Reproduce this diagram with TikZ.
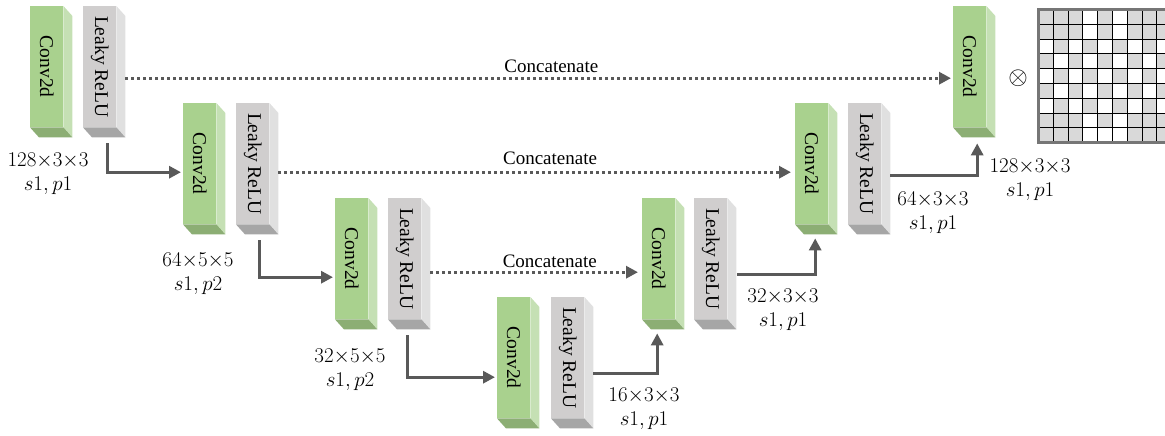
\documentclass[tikz,border=0pt]{standalone}
\usepackage{fix-cm}
\usepackage{fontspec}
\setmainfont{Liberation Serif}
\usetikzlibrary{arrows.meta,calc}

\definecolor{convfront}{HTML}{A9D18E}
\definecolor{convside}{HTML}{C5E0B4}
\definecolor{convbot}{HTML}{8CAE74}
\definecolor{relufront}{HTML}{D0CECE}
\definecolor{reluside}{HTML}{E0E0E0}
\definecolor{relubot}{HTML}{A6A6A6}
\definecolor{linkgray}{HTML}{595959}
\definecolor{cellgray}{HTML}{D9D9D9}
\definecolor{gridrim}{HTML}{767676}

% a layer block: front face node, right side and bottom faces, rotated caption
\newcommand\prism[5]{%
  \node[#4] (#1) at (#2,#3) {};
  \fill[#4side] (#1.north east) -- ++(9,10) -- ++(0,121) -- (#1.south east) -- cycle;
  \fill[#4bot] (#1.south west) -- (#1.south east) -- ++(9,10)
    -- ($(#1.south west)+(9,10)$) -- cycle;
  \node[blocktext] (#1t) at (#1.center) {#5};
}

\begin{document}
\begin{tikzpicture}[x=1pt,y=-1pt,
  face/.style={minimum width=33pt,minimum height=121pt,inner sep=0pt,anchor=north west},
  conv/.style={face,fill=convfront},
  relu/.style={face,fill=relufront},
  blocktext/.style={rotate=-90,inner sep=0pt,font=\fontsize{19.5}{22}\selectfont},
  dims/.style={align=center,inner sep=0pt,font=\fontsize{21}{24}\selectfont},
  cattext/.style={anchor=base,inner sep=0pt,font=\fontsize{19}{22}\selectfont},
  tip/.style={-{Triangle[length=12pt,width=12pt]}},
  conn/.style={draw=linkgray,line width=3pt,tip},
  skipconn/.style={draw=linkgray,line width=3pt,dash pattern=on 3pt off 3pt,tip}]

\useasboundingbox (0,0) rectangle (1165,436);

% encoder
\prism{c1}{30}{6}{conv}{Conv2d}
\prism{r1}{83}{6}{relu}{Leaky ReLU}
\prism{c2}{183}{103}{conv}{Conv2d}
\prism{r2}{236}{103}{relu}{Leaky ReLU}
\prism{c3}{335}{198}{conv}{Conv2d}
\prism{r3}{388}{198}{relu}{Leaky ReLU}
% bottleneck
\prism{c4}{497}{297}{conv}{Conv2d}
\prism{r4}{551}{297}{relu}{Leaky ReLU}
% decoder
\prism{c5}{642}{198}{conv}{Conv2d}
\prism{r5}{694}{198}{relu}{Leaky ReLU}
\prism{c6}{795}{103}{conv}{Conv2d}
\prism{r6}{848}{103}{relu}{Leaky ReLU}
\prism{c7}{953}{6}{conv}{Conv2d}

% kernel sizes, strides and paddings
\node[dims] (d1) at (48,174)  {$128{\times}3{\times}3$\\$s1,p1$};
\node[dims] (d2) at (198,274) {$64{\times}5{\times}5$\\$s1,p2$};
\node[dims] (d3) at (350,370) {$32{\times}5{\times}5$\\$s1,p2$};
\node[dims] (d4) at (644,409) {$16{\times}3{\times}3$\\$s1,p1$};
\node[dims] (d5) at (783,310) {$32{\times}3{\times}3$\\$s1,p1$};
\node[dims] (d6) at (933,213) {$64{\times}3{\times}3$\\$s1,p1$};
\node[dims] (d7) at (1030,180) {$128{\times}3{\times}3$\\$s1,p1$};

% down path
\draw[conn] ($(r1.south)+(7.5,16)$) |- ($(c2.west)+(-2,8.5)$);
\draw[conn] ($(r2.south)+(6.5,16)$) |- ($(c3.west)+(-2,18.5)$);
\draw[conn] ($(r3.south)+(2.5,16)$) |- ($(c4.west)+(-2,19.5)$);
% up path
\draw[conn] ($(r4.east)+(9,15.5)$) -| ($(c5.south)+(-1.5,14)$);
\draw[conn] ($(r5.east)+(10,15.5)$) -| ($(c6.south)+(3.5,14)$);
\draw[conn] ($(r6.east)+(9,11.5)$) -| ($(c7.south)+(7.5,16)$);

% skip connections
\draw[skipconn] ($(r1.east)+(9,11.5)$) -- ($(c7.west)+(-2,11.5)$)
  node[cattext,pos=0.516,yshift=6pt] (k1) {Concatenate};
\draw[skipconn] ($(r2.east)+(9,8.5)$) -- ($(c6.west)+(-4,8.5)$)
  node[cattext,pos=0.53,yshift=8pt] (k2) {Concatenate};
\draw[skipconn] ($(r3.east)+(9,13.5)$) -- ($(c5.west)+(-4,13.5)$)
  node[cattext,pos=0.575,yshift=5pt] (k3) {Concatenate};

% elementwise product with the mask
\node (prod) at (1018,78) {\fontsize{25}{25}\selectfont$\otimes$};

% 9x9 mask
\fill[cellgray] (1038.5,9.5) rectangle ++(133.2,133.2);
\foreach \r/\c in {1/4,1/6,2/4,2/6,
    3/1,3/3,3/5,3/7,3/9,4/2,4/4,4/6,4/8,
    5/1,5/3,5/5,5/7,5/9,6/2,6/4,6/6,6/8,
    7/1,7/3,7/5,7/7,7/9,8/4,8/6,9/4,9/5,9/6}
  \fill[white] ({1038.5+(\c-1)*14.8},{9.5+(\r-1)*14.8}) rectangle ++(14.8,14.8);
\foreach \i in {1,...,8} {
  \draw[black,line width=1pt] ({1038.5+\i*14.8},9.5) -- ++(0,133.2);
  \draw[black,line width=1pt] (1038.5,{9.5+\i*14.8}) -- ++(133.2,0);
}
\draw[gridrim,line width=2.5pt] (1038.5,9.5) rectangle ++(133.2,133.2);

\end{tikzpicture}
\end{document}
